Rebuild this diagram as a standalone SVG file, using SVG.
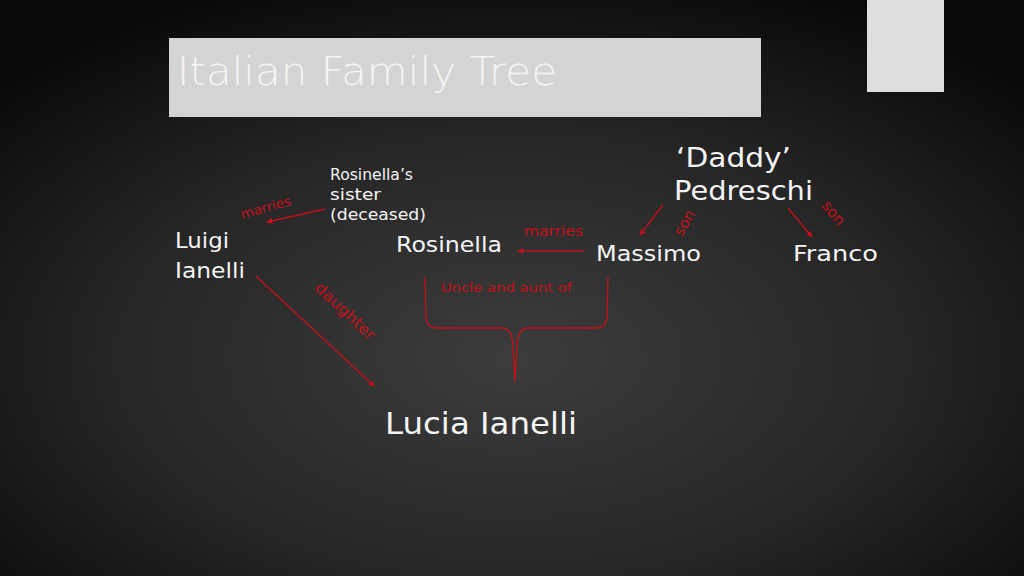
<svg xmlns="http://www.w3.org/2000/svg" width="1024" height="576" viewBox="0 0 1024 576">
<defs>
<radialGradient id="bg" cx="50%" cy="62%" r="70%" fx="50%" fy="62%">
<stop offset="0" stop-color="#3c3c3c"/>
<stop offset="0.55" stop-color="#262626"/>
<stop offset="1" stop-color="#080808"/>
</radialGradient>
<marker id="ah" viewBox="0 0 10 10" refX="9" refY="5" markerWidth="6" markerHeight="6" orient="auto" markerUnits="userSpaceOnUse">
<path d="M0,0 L10,5 L0,10 z" fill="#c4101a"/>
</marker>
<style>
text{font-family:"DejaVu Sans","Liberation Sans",sans-serif;}
.w{fill:#f4f4f4;}
.r{fill:#c4101a;}
.ln{stroke:#c4101a;stroke-width:1.3;fill:none;}
</style>
</defs>
<rect width="1024" height="576" fill="url(#bg)"/>
<rect x="867" y="0" width="77" height="92" fill="#dedede"/>
<g id="title">
<rect x="169" y="38" width="592" height="79" fill="#d4d4d4"/>
<text x="177" y="85" font-size="39" class="w" textLength="380" lengthAdjust="spacingAndGlyphs" font-weight="300">Italian Family Tree</text>
</g>
<g id="connectors">
<line class="ln" x1="325" y1="209" x2="267" y2="222" marker-end="url(#ah)"/>
<line class="ln" x1="584" y1="251" x2="518" y2="251" marker-end="url(#ah)"/>
<line class="ln" x1="663" y1="205" x2="640" y2="235" marker-end="url(#ah)"/>
<line class="ln" x1="788" y1="208" x2="812" y2="237" marker-end="url(#ah)"/>
<line class="ln" x1="256" y1="276" x2="374" y2="386" marker-end="url(#ah)"/>
<path class="ln" d="M425,277 L426,318 Q427,328 438,328 L503,328 Q512,329 513,345 L515,382 L517,345 Q518,329 527,328 L595,328 Q606,328 607,318 L608,277"/>
<text x="0" y="0" font-size="13" class="r" transform="translate(242,219) rotate(-16)" textLength="52" lengthAdjust="spacingAndGlyphs">marries</text>
<text x="524" y="236" font-size="14" class="r" textLength="59" lengthAdjust="spacingAndGlyphs">marries</text>
<text x="441" y="292" font-size="13" class="r" textLength="131" lengthAdjust="spacingAndGlyphs">Uncle and aunt of</text>
<text x="0" y="0" font-size="15" class="r" transform="translate(682,237) rotate(-60)" textLength="27" lengthAdjust="spacingAndGlyphs">son</text>
<text x="0" y="0" font-size="15" class="r" transform="translate(821,206) rotate(50)" textLength="27" lengthAdjust="spacingAndGlyphs">son</text>
<text x="0" y="0" font-size="15" class="r" transform="translate(314,289) rotate(43)" textLength="76" lengthAdjust="spacingAndGlyphs">daughter</text>
</g>
<g id="sister">
<text x="330" y="180" font-size="15" class="w" textLength="83" lengthAdjust="spacingAndGlyphs">Rosinella’s</text>
<text x="330" y="200" font-size="15" class="w" textLength="51" lengthAdjust="spacingAndGlyphs">sister</text>
<text x="330" y="220" font-size="15" class="w" textLength="96" lengthAdjust="spacingAndGlyphs">(deceased)</text>
</g>
<g id="luigi">
<text x="175" y="248" font-size="22" class="w" textLength="54" lengthAdjust="spacingAndGlyphs">Luigi</text>
<text x="175" y="278" font-size="22" class="w" textLength="70" lengthAdjust="spacingAndGlyphs">Ianelli</text>
</g>
<g id="rosinella">
<text x="396" y="252" font-size="22" class="w" textLength="106" lengthAdjust="spacingAndGlyphs">Rosinella</text>
</g>
<g id="massimo">
<text x="596" y="261" font-size="22" class="w" textLength="105" lengthAdjust="spacingAndGlyphs">Massimo</text>
</g>
<g id="franco">
<text x="793" y="261" font-size="22" class="w" textLength="85" lengthAdjust="spacingAndGlyphs">Franco</text>
</g>
<g id="daddy">
<text x="676" y="167" font-size="27" class="w" textLength="115" lengthAdjust="spacingAndGlyphs">‘Daddy’</text>
<text x="674" y="200" font-size="27" class="w" textLength="139" lengthAdjust="spacingAndGlyphs">Pedreschi</text>
</g>
<g id="lucia">
<text x="385" y="434" font-size="31" class="w" textLength="192" lengthAdjust="spacingAndGlyphs">Lucia Ianelli</text>
</g>
</svg>
